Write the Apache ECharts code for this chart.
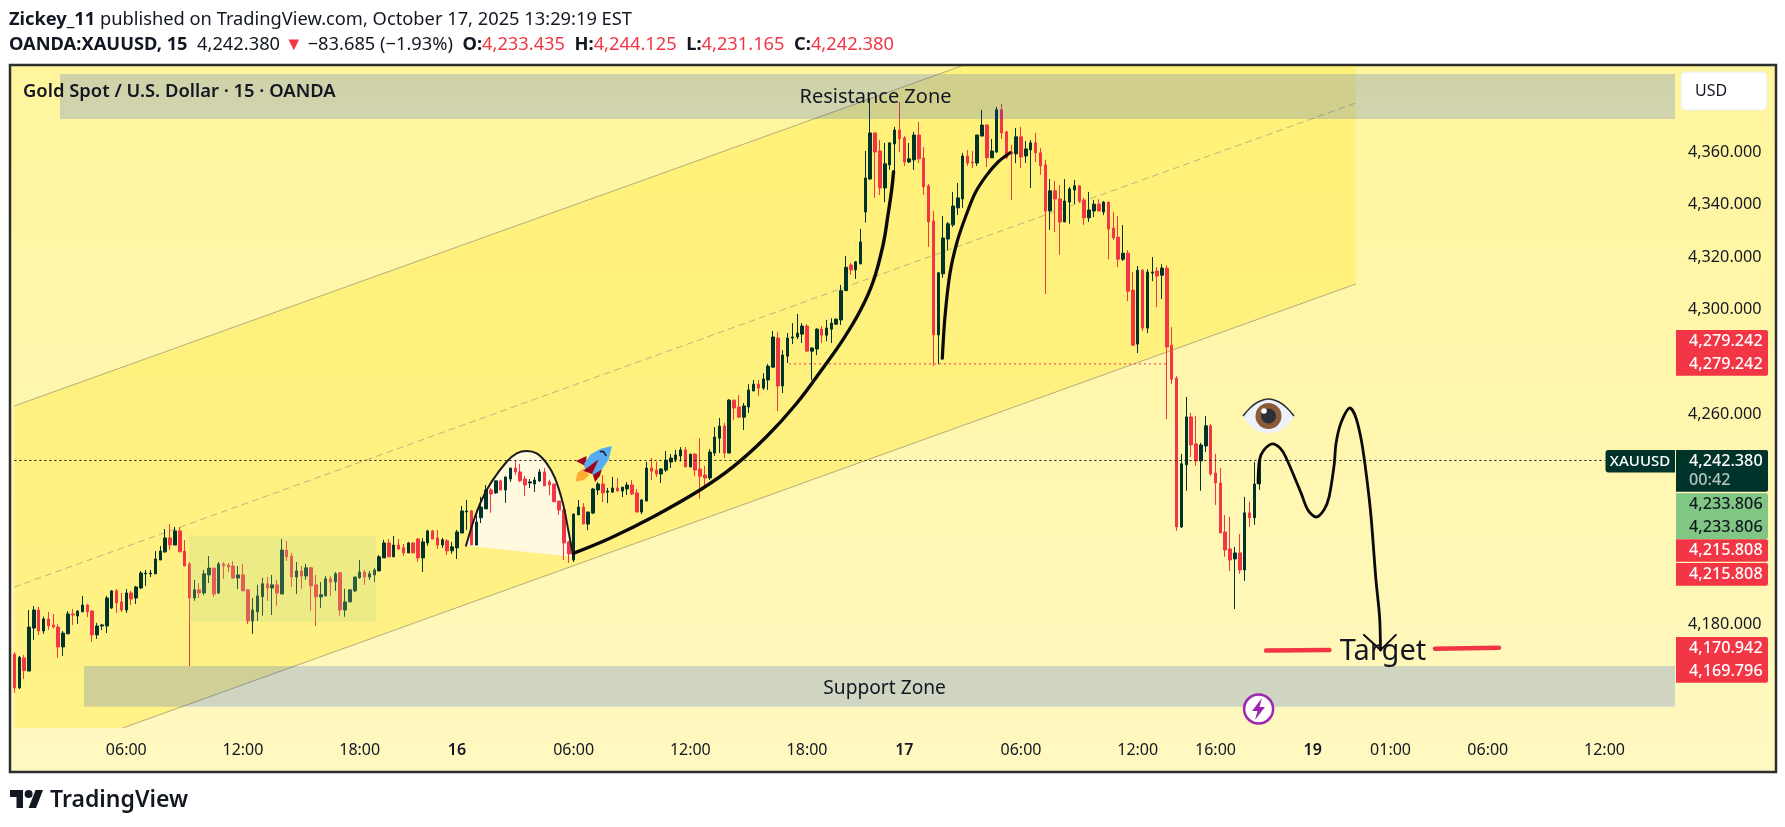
<!DOCTYPE html>
<html>
<head>
<meta charset="utf-8">
<title>XAUUSD</title>
<style>html,body{margin:0;padding:0;background:#fff}#c{width:1785px;height:827px}</style>
<script src="https://cdn.jsdelivr.net/npm/echarts@6/dist/echarts.min.js"></script>
</head>
<body>
<div id="c"></div>
<script>
const opens=[4168.4,4155.6,4167.0,4162.0,4178.4,4185.3,4177.3,4181.9,4179.6,4178.8,
4171.2,4176.2,4183.8,4183.0,4184.6,4187.2,4184.9,4175.8,4179.2,4179.2,
4186.1,4192.6,4188.4,4185.3,4191.8,4189.9,4193.7,4199.1,4199.1,4199.1,
4204.4,4207.5,4212.8,4210.1,4215.5,4207.8,4202.9,4189.9,4193.0,4191.8,
4198.7,4201.3,4191.8,4202.9,4202.5,4202.1,4197.5,4198.7,4193.0,4181.1,
4184.6,4190.4,4195.3,4193.7,4194.9,4191.4,4208.2,4205.9,4197.9,4200.2,
4198.3,4201.4,4194.9,4190.3,4190.7,4197.2,4196.0,4199.5,4185.3,4188.4,
4192.6,4197.6,4199.8,4197.9,4198.7,4200.2,4205.2,4210.9,4205.6,4210.1,
4209.1,4207.1,4210.9,4212.4,4205.2,4210.9,4215.5,4212.8,4210.1,4211.7,
4207.9,4209.0,4214.7,4222.7,4223.1,4210.1,4220.5,4223.9,4231.1,4230.0,
4234.6,4231.1,4235.3,4239.5,4238.0,4235.3,4233.8,4233.4,4234.6,4238.0,
4234.2,4233.4,4226.9,4223.5,4211.3,4204.4,4221.6,4224.6,4218.1,4222.3,
4231.1,4233.4,4230.3,4230.3,4231.9,4230.7,4231.5,4233.0,4230.0,4222.7,
4226.9,4239.5,4238.7,4237.2,4238.7,4241.8,4242.8,4244.1,4246.4,4239.9,
4244.8,4239.1,4236.8,4235.7,4245.2,4250.9,4255.5,4245.2,4265.4,4262.8,
4258.9,4262.8,4268.9,4271.5,4270.0,4273.1,4278.0,4289.1,4270.8,4282.2,
4289.1,4289.5,4290.6,4293.7,4284.1,4284.9,4292.5,4290.2,4292.5,4294.4,
4296.0,4307.2,4317.0,4315.1,4317.4,4337.2,4349.8,4367.4,4360.5,4346.4,
4355.2,4363.2,4368.5,4365.5,4356.3,4357.1,4366.6,4357.8,4347.2,4333.8,
4290.3,4313.6,4326.9,4332.3,4338.8,4342.2,4358.6,4356.3,4355.9,4366.2,
4370.4,4357.9,4360.1,4376.2,4367.8,4360.1,4359.4,4365.9,4358.6,4360.9,
4363.6,4359.8,4355.2,4337.6,4345.3,4342.2,4333.4,4341.0,4345.6,4347.2,
4341.8,4335.0,4337.6,4340.2,4337.2,4341.0,4331.1,4327.6,4319.2,4321.5,
4307.4,4286.8,4315.0,4292.9,4313.9,4314.7,4313.1,4315.8,4286.4,4273.8,
4217.0,4240.7,4259.0,4248.7,4242.2,4247.9,4255.6,4237.6,4233.8,4215.1,
4208.6,4204.8,4207.1,4200.6,4222.4,4220.5,4233.435];
const closes=[4155.6,4167.3,4162.2,4178.8,4185.3,4177.3,4181.9,4179.2,4178.8,4171.2,
4176.5,4183.8,4183.4,4184.9,4187.2,4184.6,4175.8,4179.2,4179.6,4189.9,
4192.6,4188.0,4185.3,4191.8,4189.5,4194.1,4199.4,4199.4,4199.4,4204.8,
4207.8,4212.8,4210.1,4215.5,4207.5,4202.1,4189.9,4193.0,4191.8,4199.1,
4201.3,4191.4,4202.9,4202.1,4201.7,4197.5,4198.7,4192.6,4181.1,4185.3,
4190.7,4195.3,4193.7,4194.9,4191.8,4208.2,4205.6,4197.9,4200.2,4198.3,
4201.4,4194.5,4190.3,4191.1,4197.2,4196.0,4199.1,4185.3,4188.4,4193.0,
4197.9,4199.8,4197.9,4199.1,4200.6,4205.6,4210.9,4205.6,4210.1,4208.6,
4207.1,4210.9,4207.1,4205.2,4211.3,4215.5,4212.4,4210.1,4212.1,4207.9,
4209.4,4215.1,4223.1,4223.1,4210.1,4218.9,4224.6,4231.1,4229.6,4234.6,
4231.1,4236.1,4239.5,4238.0,4234.6,4233.0,4234.2,4234.9,4238.0,4232.7,
4233.0,4226.6,4223.5,4210.9,4206.7,4221.9,4224.6,4218.1,4222.7,4231.5,
4233.4,4230.0,4230.7,4231.9,4230.7,4232.2,4233.0,4229.6,4222.7,4227.3,
4239.5,4238.3,4237.2,4239.1,4242.5,4243.3,4244.5,4246.4,4239.9,4244.8,
4238.7,4236.4,4235.7,4245.6,4251.3,4255.5,4245.2,4265.4,4262.4,4258.9,
4263.2,4269.3,4271.5,4270.0,4273.5,4278.4,4289.5,4270.8,4282.6,4289.1,
4289.5,4291.0,4293.7,4284.1,4285.3,4292.5,4290.2,4292.9,4294.8,4296.3,
4307.2,4316.1,4315.1,4318.2,4325.8,4350.2,4367.4,4360.1,4346.4,4355.6,
4363.6,4368.5,4365.1,4356.3,4357.5,4366.6,4357.5,4346.8,4333.4,4290.3,
4314.0,4327.3,4332.7,4339.5,4342.6,4358.6,4355.9,4355.9,4366.6,4370.4,
4357.9,4360.5,4376.2,4367.4,4357.9,4359.4,4365.9,4358.2,4361.3,4363.6,
4359.8,4354.8,4337.6,4345.3,4342.2,4333.4,4341.4,4346.0,4347.2,4341.4,
4335.0,4338.0,4340.2,4337.6,4341.0,4330.7,4327.3,4319.2,4321.5,4307.0,
4286.4,4315.0,4292.9,4314.3,4314.3,4312.8,4315.8,4285.7,4273.4,4217.0,
4241.1,4259.0,4248.3,4242.2,4248.3,4255.6,4237.2,4233.8,4214.7,4208.2,
4204.4,4207.1,4200.6,4222.4,4220.5,4233.4,4242.38];
const lows=[4153.7,4155.1,4159.0,4162.0,4173.9,4175.8,4176.2,4177.7,4178.3,4167.0,
4167.8,4176.2,4179.6,4180.0,4184.6,4182.6,4173.1,4174.3,4177.7,4176.5,
4185.7,4184.2,4184.6,4184.2,4187.2,4187.6,4193.3,4194.5,4197.9,4199.1,
4204.4,4207.1,4208.2,4210.1,4207.5,4202.1,4163.9,4188.8,4189.9,4191.0,
4195.6,4190.3,4191.4,4197.2,4199.8,4197.2,4193.3,4192.6,4180.0,4176.2,
4181.1,4183.1,4188.8,4183.4,4186.9,4191.4,4204.0,4194.1,4191.4,4193.4,
4196.8,4185.0,4179.2,4186.1,4190.7,4190.7,4192.6,4183.1,4182.7,4188.4,
4192.2,4197.2,4194.9,4196.8,4196.0,4200.2,4205.2,4205.6,4205.6,4208.2,
4205.9,4207.1,4207.1,4203.7,4199.8,4209.8,4212.4,4208.6,4209.0,4206.3,
4206.7,4204.8,4214.7,4215.9,4210.1,4210.1,4218.5,4223.9,4222.4,4229.6,
4231.1,4226.2,4234.2,4236.9,4234.2,4228.8,4231.9,4230.4,4234.2,4232.7,
4229.2,4226.6,4221.6,4204.4,4203.3,4203.6,4221.6,4218.1,4215.8,4221.9,
4229.2,4226.5,4226.1,4230.0,4230.7,4228.4,4229.2,4229.2,4222.7,4221.9,
4226.9,4234.9,4236.1,4233.8,4238.0,4239.5,4241.8,4242.0,4239.9,4239.9,
4236.4,4227.7,4233.0,4234.9,4244.1,4245.2,4243.3,4245.2,4257.8,4258.6,
4254.0,4260.5,4268.9,4267.0,4269.3,4269.3,4277.7,4261.2,4268.1,4279.6,
4286.8,4288.7,4287.2,4284.1,4273.1,4282.6,4287.2,4287.9,4287.2,4294.1,
4294.1,4307.2,4313.2,4311.7,4317.4,4333.2,4349.5,4342.6,4343.7,4341.0,
4353.3,4352.9,4360.1,4354.8,4355.9,4353.3,4355.9,4343.7,4323.9,4278.5,
4279.2,4312.1,4322.7,4331.5,4336.1,4338.8,4354.8,4354.0,4354.8,4366.2,
4354.4,4357.9,4359.8,4365.1,4357.5,4341.8,4355.9,4354.0,4355.9,4346.4,
4356.3,4351.4,4305.9,4330.4,4329.6,4320.8,4333.4,4332.7,4340.3,4340.7,
4332.3,4333.4,4335.3,4337.6,4336.0,4319.2,4326.5,4316.2,4318.5,4303.2,
4286.4,4283.4,4291.8,4291.0,4310.8,4300.9,4304.0,4258.2,4271.5,4215.5,
4216.6,4230.8,4243.7,4240.3,4230.8,4245.6,4236.5,4225.4,4214.7,4205.6,
4200.2,4185.7,4199.1,4196.4,4217.0,4217.8,4231.165];
const highs=[4169.2,4167.7,4168.1,4185.3,4186.8,4186.5,4182.8,4184.6,4183.8,4180.0,
4177.3,4184.9,4185.7,4185.3,4190.7,4187.6,4185.3,4180.4,4180.0,4190.7,
4192.9,4193.3,4191.8,4193.3,4192.6,4194.5,4200.2,4200.6,4200.6,4207.8,
4209.7,4216.2,4218.1,4217.0,4217.0,4212.0,4203.6,4196.8,4195.6,4200.6,
4205.9,4201.3,4203.6,4203.6,4203.3,4204.0,4202.1,4202.9,4193.3,4189.9,
4194.9,4197.6,4197.9,4198.7,4196.8,4212.4,4211.7,4207.1,4203.6,4202.1,
4202.9,4201.8,4198.7,4196.0,4198.3,4198.3,4199.8,4199.8,4193.4,4193.0,
4197.9,4204.4,4200.6,4200.2,4201.4,4206.3,4212.1,4212.4,4213.6,4212.4,
4210.5,4211.3,4210.9,4212.8,4212.8,4215.9,4215.9,4215.9,4212.8,4212.4,
4211.3,4215.9,4225.0,4227.3,4223.5,4223.5,4228.5,4233.0,4231.9,4234.6,
4235.0,4236.1,4239.5,4242.2,4241.1,4236.5,4235.3,4236.1,4239.1,4239.5,
4235.0,4233.4,4226.9,4223.9,4211.7,4222.2,4227.3,4226.1,4222.7,4231.9,
4234.1,4236.8,4231.9,4236.1,4235.7,4232.2,4234.1,4234.9,4231.5,4227.7,
4241.8,4243.3,4241.9,4239.5,4246.0,4244.8,4246.4,4247.5,4247.5,4244.8,
4245.2,4250.9,4240.3,4246.7,4255.1,4258.6,4256.7,4265.8,4265.4,4267.3,
4264.3,4271.5,4273.1,4273.1,4275.7,4279.2,4291.8,4291.4,4284.5,4291.0,
4294.8,4298.3,4294.8,4294.4,4285.6,4292.9,4293.7,4296.0,4296.7,4296.7,
4309.4,4320.4,4317.7,4318.5,4330.8,4360.5,4380.7,4367.4,4364.7,4363.6,
4363.6,4369.7,4379.2,4366.2,4363.6,4367.8,4371.6,4362.0,4347.9,4337.6,
4314.3,4335.7,4333.4,4344.9,4348.3,4359.8,4360.9,4360.5,4366.6,4376.2,
4370.8,4365.1,4377.3,4378.5,4368.2,4362.8,4369.3,4369.7,4364.3,4364.7,
4367.4,4361.7,4357.1,4349.8,4349.1,4347.5,4349.8,4346.8,4349.5,4347.5,
4342.6,4344.9,4341.8,4342.1,4341.4,4341.0,4337.2,4335.6,4332.2,4322.7,
4314.3,4316.6,4315.4,4315.4,4320.0,4316.2,4317.3,4316.9,4293.3,4274.6,
4244.9,4266.6,4260.5,4259.4,4249.1,4259.4,4256.3,4244.9,4239.5,4221.6,
4220.8,4209.4,4214.3,4228.5,4226.6,4241.8,4244.125];

const slotCount=342;
const timeTickBars=[23,47,71,91,115,139,163,183,207,231,247,267,283,303,327];
const timeTickLabels=['06:00','12:00','18:00','16','06:00','12:00','18:00','17','06:00','12:00','16:00','19','01:00','06:00','12:00'];
const priceTicks=[4180,4260,4300,4320,4340,4360];

const lastPrice=4242.38, levelPrice=4279.242;
const channelFill=[[0,4263.2],[194.67,4392.9],[275.8,4392.9],[275.8,4309.7],[22.33,4140.3],[0,4140.3]];
const channelUpper=[[0,4263.2],[194.67,4392.9]];
const channelLower=[[22.33,4140.3],[275.8,4309.7]];
const channelMid=[[0,4194.1],[275.8,4378.8]];
const resistanceZone=[[9.37,4389.9],[341.5,4389.9],[341.5,4372.7],[9.37,4372.7]];
const supportZone=[[14.3,4163.9],[341.5,4163.9],[341.5,4148.4],[14.3,4148.4]];
const rangeBox=[[36.1,4213.2],[74.15,4213.2],[74.15,4181.2],[36.1,4181.2]];
const domeCurve=[[92.87,4209.85],[94.37,4219.0],[96.1,4227.3],[98.15,4234.3],[101.24,4241.9],[103.29,4245.1],[105.35,4246.0],[107.4,4245.1],[109.46,4241.3],[111.17,4235.6],[112.88,4225.4],[113.9,4215.8],[114.93,4205.6]];
const riseCurve=[[114.93,4206.95],[122.48,4212.7],[131.39,4220.9],[140.99,4231.1],[147.84,4240.0],[154.7,4251.5],[160.88,4264.2],[166.29,4277.7],[170.4,4288.5],[173.9,4299.4],[176.57,4310.5],[178.63,4324.6],[179.7,4336.7],[180.4,4345.6],[180.8,4352.6]];
const reboundCurve=[[190.82,4281.4],[191.37,4297.3],[192.4,4313.8],[193.78,4325.3],[195.49,4334.8],[197.55,4344.4],[199.95,4351.3],[202.34,4356.4],[204.74,4359.85]];
const forecastCurve=[[255.75,4233.8],[256.05,4242.6],[256.98,4246.4],[258.75,4248.7],[260.27,4247.1],[261.45,4243.7],[264.59,4230.0],[266.0,4223.5],[267.67,4220.8],[269.3,4223.5],[270.35,4228.4],[271.4,4240.6],[271.8,4249.0],[272.8,4256.7],[274.67,4262.4],[275.9,4258.6],[277.1,4249.0],[278.16,4234.9],[279.0,4220.8],[280.0,4196.8],[280.75,4182.6],[280.94,4170.0]];
const arrowHead=[[277.54,4175.8],[280.94,4170.0],[284.1,4175.8]];
const targetLeft=[[257.4,4169.8],[270.43,4170.0]];
const targetRight=[[292.15,4170.5],[305.3,4170.9]];
const zoneTexts=[['Resistance Zone',177.08,4381.6,20],['Support Zone',178.95,4156.1,19.2],['Target',281.45,4170,29]];

const priceTags=[
 {t:['4,279.242','4,279.242'],y0:330,y1:375.7,ty:[341.5,364],bg:'#F23645',fg:'#fff'},
 {t:['4,242.380','00:42'],y0:450,y1:491.7,ty:[461,480],bg:'#00332A',fg:'#fff',fg2:'#b5c4c0'},
 {t:['4,233.806','4,233.806'],y0:493.3,y1:539,ty:[504.5,527],bg:'#81C784',fg:'#131722'},
 {t:['4,215.808'],y0:539.3,y1:561.7,ty:[550.5],bg:'#F23645',fg:'#fff'},
 {t:['4,215.808'],y0:563,y1:585.7,ty:[574.5],bg:'#F23645',fg:'#fff'},
 {t:['4,170.942','4,169.796'],y0:637,y1:682.7,ty:[648.5,671],bg:'#F23645',fg:'#fff'}
];

const F='"Noto Sans", sans-serif';
const INK='#131722', RED='#F23645', DARK='#00332A';
const categories=Array.from({length:slotCount},(_,i)=>{const k=timeTickBars.indexOf(i);return k>=0?timeTickLabels[k]:'';});
const candles=opens.map((o,i)=>[o,closes[i],lows[i],highs[i]]);

function poly(name,pts,fill,stroke,lw,z){
 return {type:'custom',name,xAxisIndex:1,z,silent:true,data:[0],
  renderItem:(p,api)=>({type:'polygon',shape:{points:pts.map(q=>api.coord(q))},
   style:{fill,stroke:stroke||null,lineWidth:lw||0}})};
}
function line(name,pts,color,width,z,o){
 o=o||{};
 return {type:'line',name,xAxisIndex:1,data:pts,z,clip:false,silent:true,showSymbol:false,symbol:'none',
  smooth:o.smooth||false,animation:false,
  lineStyle:{color,width,type:o.dash||'solid',cap:o.cap||'round',join:'round'}};
}

const graphics=[];
graphics.push({type:'rect',z:-20,silent:true,shape:{x:10,y:65,width:1766,height:707},
 style:{fill:{type:'linear',x:0,y:0,x2:0,y2:1,colorStops:[{offset:0,color:'#FFF59D'},{offset:1,color:'#FFF8C0'}]}}});
graphics.push({type:'rect',z:200,silent:true,shape:{x:10,y:65,width:1766,height:707},style:{fill:null,stroke:'#2E2E2E',lineWidth:2.5}});
// header
graphics.push({type:'text',z:200,x:9,y:19.5,style:{text:'{b|Zickey_11} published on TradingView.com, October 17, 2025 13:29:19 EST',
 rich:{b:{fontWeight:700,fontSize:18.3,fontFamily:F,fill:INK}},fontSize:18.3,fontFamily:F,fill:INK,verticalAlign:'middle'}});
graphics.push({type:'text',z:200,x:9,y:44.5,style:{text:'{b|OANDA:XAUUSD, 15}  4,242.380 {r|▼} −83.685 (−1.93%)  {b|O:}{r|4,233.435}  {b|H:}{r|4,244.125}  {b|L:}{r|4,231.165}  {b|C:}{r|4,242.380}',
 rich:{b:{fontWeight:700,fontSize:18.3,fontFamily:F,fill:INK},r:{fontSize:18.3,fontFamily:F,fill:RED}},fontSize:18.3,fontFamily:F,fill:INK,verticalAlign:'middle'}});
graphics.push({type:'text',z:190,x:23,y:92,style:{text:'Gold Spot / U.S. Dollar · 15 · OANDA',fontSize:18.4,fontWeight:600,fontFamily:F,fill:INK,verticalAlign:'middle'}});
// USD box
graphics.push({type:'rect',z:150,shape:{x:1681,y:72,width:86,height:38,r:5},style:{fill:'#fff',stroke:'#EEF0F3',lineWidth:1}});
graphics.push({type:'text',z:151,x:1695,y:91,style:{text:'USD',fontSize:16,fontFamily:F,fill:INK,verticalAlign:'middle'}});
// price tags
priceTags.forEach(g=>{
 graphics.push({type:'rect',z:150,shape:{x:1676,y:g.y0,width:92,height:g.y1-g.y0,r:[0,2,2,0]},style:{fill:g.bg}});
 g.t.forEach((s,i)=>graphics.push({type:'text',z:151,x:1689,y:g.ty[i],style:{text:s,fontSize:16.2,fontFamily:F,fontWeight:500,fill:(i==1&&g.fg2)?g.fg2:g.fg,verticalAlign:'middle'}}));
});
graphics.push({type:'rect',z:150,shape:{x:1605.5,y:450,width:69.5,height:22.6,r:[3,0,0,3]},style:{fill:DARK}});
graphics.push({type:'text',z:151,x:1640,y:461.5,style:{text:'XAUUSD',fontSize:15,fontFamily:F,fontWeight:500,fill:'#fff',align:'center',verticalAlign:'middle'}});
// logo
const L=(a)=>a.map(q=>[10+q[0]*.93,786+q[1]]);
graphics.push({type:'polygon',z:200,shape:{points:L([[14,22],[7,22],[7,11],[0,11],[0,4],[14,4]])},style:{fill:INK}});
graphics.push({type:'polygon',z:200,shape:{points:L([[28,22],[20,22],[27.5,4],[35.5,4]])},style:{fill:INK}});
graphics.push({type:'circle',z:200,shape:{cx:28.6,cy:794,r:4},style:{fill:INK}});
graphics.push({type:'text',z:200,x:50,y:800.5,style:{text:'TradingView',fontSize:23,fontWeight:600,fontFamily:F,fill:INK,verticalAlign:'middle'}});
// flash icon
graphics.push({type:'circle',z:120,shape:{cx:1258.6,cy:709,r:14.5},style:{fill:'#fff',stroke:'#9C27B0',lineWidth:2.5}});
graphics.push({type:'polygon',z:121,shape:{points:[[1262,698],[1252,711],[1257.5,711],[1255,720],[1265,707],[1259.5,707]]},style:{fill:'#9C27B0'}});
// eye
graphics.push({type:'polygon',z:120,shape:{smooth:0.25,points:[[1243,416],[1250,408],[1258,402],[1268.5,399],[1279,402],[1287,408],[1294,416],[1287,425],[1279,431],[1268.5,433],[1258,431],[1250,425]]},style:{fill:'#EDF2FA'}});
graphics.push({type:'polyline',z:121,shape:{smooth:0.25,points:[[1243,416],[1250,408],[1258,402],[1268.5,399],[1279,402],[1287,408],[1294,416]]},style:{fill:null,stroke:'#2B2F36',lineWidth:1.6}});
graphics.push({type:'circle',z:122,shape:{cx:1268.5,cy:416,r:13},style:{fill:'#8B5A36'}});
graphics.push({type:'circle',z:123,shape:{cx:1268.5,cy:416,r:7.5},style:{fill:'#2B2F3A'}});
graphics.push({type:'circle',z:124,shape:{cx:1264,cy:411,r:2.8},style:{fill:'#fff'}});
// rocket (drawn from a local outline, placed around 593,463)
const R=(a)=>a.map(q=>[570+q[0]/3,300+q[1]/3]);
graphics.push({type:'polygon',z:120,shape:{points:R([[17,545],[22,520],[40,505],[58,525],[42,540]])},style:{fill:'#FFAC33'}});
graphics.push({type:'polygon',z:121,shape:{points:R([[18,483],[50,468],[46,498]])},style:{fill:'#A0041E'}});
graphics.push({type:'polygon',z:121,shape:{points:R([[68,522],[96,507],[90,527],[75,546]])},style:{fill:'#A0041E'}});
graphics.push({type:'polygon',z:122,shape:{points:R([[126,438],[92,446],[62,463],[43,490],[44,508],[70,524],[96,508],[116,478]])},style:{fill:'#55ACEE'}});
graphics.push({type:'polygon',z:123,shape:{points:R([[40,512],[86,478],[66,522]])},style:{fill:'#A0041E'}});
graphics.push({type:'polyline',z:123,shape:{smooth:0.5,points:[[600,452],[603,451.5],[606,456]]},style:{fill:null,stroke:'#1A1A2A',lineWidth:1.6}});

const option={
 animation:false,
 backgroundColor:'#fff',
 grid:{left:12,width:1663,top:68.46,height:660.24,containLabel:false},
 xAxis:[
  {type:'category',data:categories,boundaryGap:true,axisLine:{show:false},axisTick:{show:false},splitLine:{show:false},
   axisLabel:{interval:0,margin:14,fontSize:16,fontFamily:F,color:INK,hideOverlap:false,
    formatter:(v)=>/^\d\d$/.test(v)?'{b|'+v+'}':v,rich:{b:{fontWeight:600,fontSize:16,fontFamily:F,color:INK}}}},
  {type:'value',min:-0.5,max:slotCount-0.5,show:false,splitLine:{show:false}}
 ],
 yAxis:{type:'value',position:'right',min:4140,max:4392,splitLine:{show:false},axisLine:{show:false},axisTick:{show:false},
  axisLabel:{customValues:priceTicks,margin:13,fontSize:16.2,fontFamily:F,color:INK,
   formatter:(v)=>v.toLocaleString('en-US',{minimumFractionDigits:3,maximumFractionDigits:3})}},
 graphic:{elements:graphics},
 series:[
  poly('channel',channelFill,'rgba(255,236,90,0.55)',null,0,1),
  poly('dome',domeCurve,'rgba(255,250,226,0.97)',null,0,2),
  {type:'candlestick',name:'XAUUSD',xAxisIndex:0,data:candles,z:5,barWidth:3,silent:true,clip:false,
   itemStyle:{color:DARK,color0:RED,borderColor:DARK,borderColor0:RED,borderWidth:1}},
  poly('resistance',resistanceZone,'rgba(20,76,220,0.2)',null,0,6),
  poly('support',supportZone,'rgba(20,76,220,0.2)',null,0,6),
  poly('range',rangeBox,'rgba(179,221,140,0.25)','rgba(179,221,140,0.15)',2,6),
  line('channelUpper',channelUpper,'#B4AD7C',1,4),
  line('channelLower',channelLower,'#B4AD7C',1,4),
  line('channelMid',channelMid,'#BDB57E',1,4,{dash:[6,5]}),
  line('last',[[0,lastPrice],[327.1,lastPrice]],'#111',1,7,{dash:[2,3],cap:'butt'}),
  line('level',[[159.3,levelPrice],[237.2,levelPrice]],RED,1,7,{dash:[2,3],cap:'butt'}),
  line('domeLine',domeCurve,'#1A1A1A',2,8,{smooth:0.3}),
  line('rise',riseCurve,'#0A0A0A',3.4,9,{smooth:0.4}),
  line('rebound',reboundCurve,'#0A0A0A',3.2,9,{smooth:0.3}),
  line('forecast',forecastCurve,'#0A0A0A',2.8,9,{smooth:0.3}),
  line('arrow',arrowHead,'#0A0A0A',2,9),
  line('targetL',targetLeft,RED,4.5,9),
  line('targetR',targetRight,RED,4.5,9),
  {type:'custom',name:'labels',xAxisIndex:1,z:10,silent:true,data:zoneTexts.map((t,i)=>i),
   renderItem:(p,api)=>{const t=zoneTexts[p.dataIndex],c=api.coord([t[1],t[2]]);
    return {type:'text',x:c[0],y:c[1]+2,style:{text:t[0],fontSize:t[3],fontFamily:F,fill:'#131722',align:'center',verticalAlign:'middle'}};}}
 ]
};
const chart=echarts.init(document.getElementById('c'),null,{renderer:'canvas',width:1785,height:827});
chart.setOption(option);
</script>
</body>
</html>
